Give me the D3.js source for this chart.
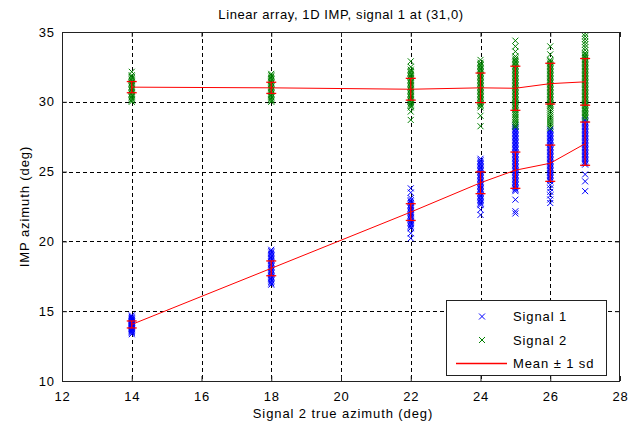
<!DOCTYPE html>
<html>
<head>
<meta charset="utf-8">
<script src="https://cdn.jsdelivr.net/npm/d3@7/dist/d3.min.js"></script>
<style>
  html, body { margin: 0; padding: 0; background: #fff; }
  svg { display: block; font-family: "Liberation Sans", Arial, sans-serif; }
</style>
</head>
<body>
<svg id="chart" width="640" height="427"></svg>
<script>
// Signal 2 true azimuth positions (deg)
const positions = [14, 18, 22, 24, 25, 26, 27];

// IMP azimuth estimates for signal 1, one list per position
const signal1Points = [
  [13.35,13.45,13.52,13.58,13.64,13.7,13.75,13.8,13.85,13.9,13.95,14.0,14.05,14.1,14.15,14.2,14.25,14.3,14.35,14.4,14.46,14.52,14.6,14.7],
  [16.9,17.0,17.1,17.2,17.3,17.4,17.5,17.6,17.7,17.8,17.9,18.0,18.1,18.2,18.3,18.4,18.5,18.6,18.7,18.8,18.9,19.0,19.1,19.2,19.3,19.4],
  [20.22,20.58,20.94,21.05,21.15,21.25,21.35,21.45,21.55,21.65,21.75,21.85,21.95,22.05,22.15,22.25,22.35,22.45,22.55,22.65,22.75,22.85,22.95,23.1,23.5,23.8],
  [21.9,22.27,22.6,22.7,22.8,22.9,23.0,23.1,23.2,23.3,23.4,23.5,23.6,23.7,23.8,23.9,24.0,24.1,24.2,24.3,24.4,24.5,24.6,24.7,24.8,24.9,25.0,25.1,25.2,25.3,25.4,25.5,25.6,25.7,25.8,25.92],
  [22.0,22.16,22.99,23.6,23.7,23.8,23.9,24.0,24.1,24.2,24.3,24.4,24.5,24.6,24.7,24.8,24.9,25.0,25.1,25.2,25.3,25.4,25.5,25.6,25.7,25.8,25.9,26.0,26.1,26.2,26.3,26.4,26.5,26.6,26.7,26.8,26.9,27.0,27.1,27.2,27.3,27.4,27.5,27.6,27.7,27.8,27.9,28.0,28.1,28.2,28.3],
  [22.75,23.0,23.3,23.55,23.8,24.05,24.3,24.4,24.5,24.6,24.7,24.8,24.9,25.0,25.1,25.2,25.3,25.4,25.5,25.6,25.7,25.8,25.9,26.0,26.1,26.2,26.3,26.4,26.5,26.6,26.7,26.8,26.9,27.0,27.1,27.2,27.3,27.4,27.5,27.6,27.7,27.8,27.9,28.0],
  [23.6,24.3,24.8,25.5,25.6,25.7,25.8,25.9,26.0,26.1,26.2,26.3,26.4,26.5,26.6,26.7,26.8,26.9,27.0,27.1,27.2,27.3,27.4,27.5,27.6,27.7,27.8,27.9,28.0,28.1,28.2,28.3,28.4,28.5,28.6,28.7]
];

// IMP azimuth estimates for signal 2, one list per position
const signal2Points = [
  [30.0,30.1,30.2,30.3,30.4,30.5,30.6,30.7,30.8,30.9,31.0,31.1,31.2,31.3,31.4,31.5,31.6,31.7,31.8,31.9,32.15],
  [30.0,30.1,30.2,30.3,30.4,30.5,30.6,30.7,30.8,30.9,31.0,31.1,31.2,31.3,31.4,31.5,31.6,31.7,31.8,31.9,32.0],
  [28.7,29.3,29.6,29.7,29.8,29.9,30.0,30.1,30.2,30.3,30.4,30.5,30.6,30.7,30.8,30.9,31.0,31.1,31.2,31.3,31.4,31.5,31.6,31.7,31.8,31.9,32.0,32.1,32.2,32.3,32.5,32.9],
  [28.25,29.0,29.6,29.7,29.8,29.9,30.0,30.1,30.2,30.3,30.4,30.5,30.6,30.7,30.8,30.9,31.0,31.1,31.2,31.3,31.4,31.5,31.6,31.7,31.8,31.9,32.0,32.1,32.2,32.3,32.4,32.5,32.6,32.7,32.8,33.0],
  [28.2,28.32,28.44,28.56,28.68,28.8,28.92,29.04,29.16,29.28,29.4,29.5,29.6,29.7,29.8,29.9,30.0,30.1,30.2,30.3,30.4,30.5,30.6,30.7,30.8,30.9,31.0,31.1,31.2,31.3,31.4,31.5,31.6,31.7,31.8,31.9,32.0,32.1,32.2,32.3,32.4,32.5,32.6,32.7,32.8,32.9,33.0,33.1,33.25,33.6,33.97,34.38],
  [28.1,28.25,28.4,28.55,28.7,28.85,29.0,29.15,29.3,29.45,29.6,29.7,29.8,29.9,30.0,30.1,30.2,30.3,30.4,30.5,30.6,30.7,30.8,30.9,31.0,31.1,31.2,31.3,31.4,31.5,31.6,31.7,31.8,31.9,32.0,32.1,32.2,32.3,32.4,32.5,32.6,32.7,32.8,32.9,33.0,33.4,33.97],
  [28.8,28.9,29.0,29.1,29.2,29.3,29.4,29.5,29.6,29.7,29.8,29.9,30.0,30.1,30.2,30.3,30.4,30.5,30.6,30.7,30.8,30.9,31.0,31.1,31.2,31.3,31.4,31.5,31.6,31.7,31.8,31.9,32.0,32.1,32.2,32.3,32.4,32.5,32.6,32.7,32.8,32.9,33.0,33.1,33.2,33.3,33.4,33.5,33.7,33.9,34.1,34.3,34.5,34.7,34.9]
];

// Mean and standard deviation of each set of estimates
const signal1Mean = [14.05, 18.07, 22.1, 24.2, 25.1, 25.6, 27.0];
const signal1Sd   = [0.25, 0.53, 0.6, 0.78, 1.3, 1.3, 1.55];
const signal2Mean = [31.05, 31.0, 30.9, 31.0, 30.97, 31.3, 31.43];
const signal2Sd   = [0.4, 0.4, 0.78, 1.06, 1.58, 1.46, 1.67];

// Axis ticks
const xTicks = [12, 14, 16, 18, 20, 22, 24, 26, 28];
const yTicks = [10, 15, 20, 25, 30, 35];

const legendLabels = ["Signal 1", "Signal 2", "Mean \u00b1 1 sd"];

const colors = { s1: "#0000ff", s2: "#008000", mean: "#ff0000" };

const svg = d3.select("#chart");
const plot = { left: 62, right: 620, top: 32, bottom: 381 };
const fontSize = 13;
const spacing = "0.9px";

const x = d3.scaleLinear().domain([12, 28]).range([plot.left, plot.right]);
const y = d3.scaleLinear().domain([10, 35]).range([plot.bottom, plot.top]);

svg.append("defs").append("clipPath").attr("id", "plotClip")
  .append("rect")
  .attr("x", plot.left).attr("y", plot.top)
  .attr("width", plot.right - plot.left).attr("height", plot.bottom - plot.top);

// Dotted grid
const grid = svg.append("g").attr("stroke", "#000").attr("stroke-width", 1)
  .attr("stroke-dasharray", "4,3").attr("shape-rendering", "crispEdges");
grid.selectAll("line.gx").data(xTicks.slice(1, -1)).join("line")
  .attr("x1", d => Math.round(x(d)) + 0.5).attr("x2", d => Math.round(x(d)) + 0.5)
  .attr("y1", plot.top).attr("y2", plot.bottom);
grid.selectAll("line.gy").data(yTicks.slice(1, -1)).join("line")
  .attr("y1", d => Math.round(y(d)) + 0.5).attr("y2", d => Math.round(y(d)) + 0.5)
  .attr("x1", plot.left).attr("x2", plot.right);

const xMark = "M-3,-3L3,3M-3,3L3,-3";
const dataLayer = svg.append("g").attr("clip-path", "url(#plotClip)");

function drawPoints(pointSets, color) {
  const flat = [];
  pointSets.forEach((vals, i) => vals.forEach(v => flat.push([positions[i], v])));
  dataLayer.append("g").selectAll("path").data(flat).join("path")
    .attr("d", xMark)
    .attr("transform", d => `translate(${x(d[0])},${y(d[1])})`)
    .attr("fill", "none").attr("stroke", color).attr("stroke-width", 1);
}
drawPoints(signal1Points, colors.s1);
drawPoints(signal2Points, colors.s2);

// Mean lines with ±1 sd error bars
function drawMean(means, sds) {
  const line = d3.line().x((d, i) => x(positions[i])).y(d => y(d));
  dataLayer.append("path").datum(means).attr("d", line)
    .attr("fill", "none").attr("stroke", colors.mean).attr("stroke-width", 1);
  const bars = dataLayer.append("g").attr("stroke", colors.mean).attr("stroke-width", 1.3);
  means.forEach((m, i) => {
    const cx = x(positions[i]);
    const lo = y(m - sds[i]), hi = y(m + sds[i]);
    bars.append("line").attr("x1", cx).attr("x2", cx).attr("y1", lo).attr("y2", hi);
    bars.append("line").attr("x1", cx - 5).attr("x2", cx + 5).attr("y1", lo).attr("y2", lo);
    bars.append("line").attr("x1", cx - 5).attr("x2", cx + 5).attr("y1", hi).attr("y2", hi);
  });
}
drawMean(signal1Mean, signal1Sd);
drawMean(signal2Mean, signal2Sd);

// Axes box with inward ticks on all sides
const axisColor = "#222";
const tickLen = 5;
const axes = svg.append("g");
const xAxisB = d3.axisBottom(x).tickValues(xTicks).tickSizeInner(-tickLen).tickSizeOuter(0).tickPadding(11);
const xAxisT = d3.axisTop(x).tickValues(xTicks).tickSizeInner(-tickLen).tickSizeOuter(0).tickFormat("");
const yAxisL = d3.axisLeft(y).tickValues(yTicks).tickSizeInner(-tickLen).tickSizeOuter(0).tickPadding(7);
const yAxisR = d3.axisRight(y).tickValues(yTicks).tickSizeInner(-tickLen).tickSizeOuter(0).tickFormat("");

function styleAxis(g) {
  g.select(".domain").remove();
  g.selectAll(".tick line").attr("stroke", axisColor);
  g.selectAll(".tick text").attr("fill", "#000").attr("font-size", fontSize)
    .attr("letter-spacing", spacing)
    .attr("font-family", "Liberation Sans, Arial, sans-serif");
}
axes.append("g").attr("transform", `translate(0,${plot.bottom})`).call(xAxisB).call(styleAxis);
axes.append("g").attr("transform", `translate(0,${plot.top})`).call(xAxisT).call(styleAxis);
axes.append("g").attr("transform", `translate(${plot.left},0)`).call(yAxisL).call(styleAxis);
axes.append("g").attr("transform", `translate(${plot.right},0)`).call(yAxisR).call(styleAxis);

axes.append("rect")
  .attr("x", plot.left + 0.5).attr("y", plot.top + 0.5)
  .attr("width", plot.right - plot.left - 1).attr("height", plot.bottom - plot.top)
  .attr("fill", "none").attr("stroke", axisColor).attr("stroke-width", 1)
  .attr("shape-rendering", "crispEdges");

// Titles
svg.append("text").attr("x", (plot.left + plot.right) / 2).attr("y", 19)
  .attr("text-anchor", "middle").attr("font-size", fontSize).attr("letter-spacing", "0.6px")
  .text("Linear array, 1D IMP, signal 1 at (31,0)");
svg.append("text").attr("x", (plot.left + plot.right) / 2 + 2).attr("y", 418)
  .attr("text-anchor", "middle").attr("font-size", fontSize).attr("letter-spacing", spacing)
  .text("Signal 2 true azimuth (deg)");
svg.append("text")
  .attr("transform", `translate(29,${(plot.top + plot.bottom) / 2}) rotate(-90)`)
  .attr("text-anchor", "middle").attr("font-size", fontSize).attr("letter-spacing", spacing)
  .text("IMP azimuth (deg)");

// Legend
const legend = svg.append("g");
legend.append("rect").attr("x", 446.5).attr("y", 300.5).attr("width", 160).attr("height", 75)
  .attr("fill", "#fff").attr("stroke", axisColor).attr("stroke-width", 1);
const rows = [316.5, 340, 363.5];
legendLabels.forEach((label, i) => {
  const ry = rows[i];
  if (i < 2) {
    legend.append("path").attr("d", xMark).attr("transform", `translate(482,${ry})`)
      .attr("fill", "none").attr("stroke", i === 0 ? colors.s1 : colors.s2).attr("stroke-width", 1);
  } else {
    legend.append("line").attr("x1", 456).attr("x2", 507).attr("y1", ry).attr("y2", ry)
      .attr("stroke", colors.mean).attr("stroke-width", 1.3);
  }
  legend.append("text").attr("x", 513).attr("y", ry).attr("dy", "0.35em")
    .attr("font-size", fontSize).attr("letter-spacing", spacing).text(label);
});
</script>
</body>
</html>
